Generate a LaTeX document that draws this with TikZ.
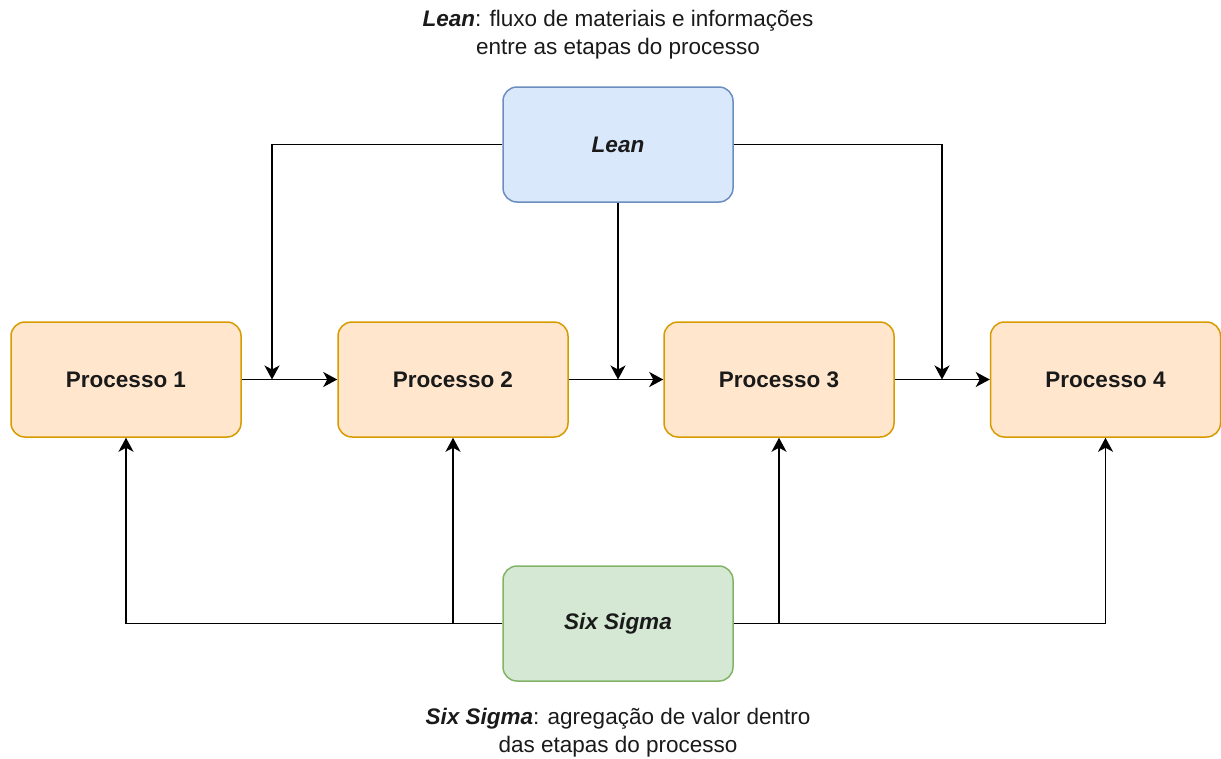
\documentclass[tikz,border=0pt]{standalone}
\usepackage{fontspec}
\setmainfont{Liberation Sans}
\usetikzlibrary{arrows.meta}
\definecolor{leanfill}{HTML}{DAE8FC}
\definecolor{leanline}{HTML}{6C8EBF}
\definecolor{procfill}{HTML}{FFE6CC}
\definecolor{procline}{HTML}{D79B00}
\definecolor{sixfill}{HTML}{D5E8D4}
\definecolor{sixline}{HTML}{82B366}
\definecolor{ink}{HTML}{1A1A1A}
\newcommand{\labfont}{\fontsize{22.5}{27.5}\selectfont}
\tikzset{
  box/.style={rectangle, rounded corners=14pt, minimum width=230pt, minimum height=115pt,
    line width=1.5pt, inner sep=0pt, text=ink, font=\labfont},
  leanbox/.style={box, fill=leanfill, draw=leanline, font=\labfont\bfseries\itshape},
  procbox/.style={box, fill=procfill, draw=procline, font=\labfont\bfseries},
  sixbox/.style={box, fill=sixfill, draw=sixline, font=\labfont\bfseries\itshape},
  caption/.style={align=center, text=ink, inner sep=0pt, font=\labfont},
  arr/.style={line width=1.7pt, draw=black, -{Stealth[length=14pt, width=15pt, inset=4pt]}}
}
\begin{document}
\begin{tikzpicture}[x=1pt, y=-1pt]
  \useasboundingbox (0,0) rectangle (1221,758);

  % main blocks
  \node[leanbox] (lean) at (618,144.5) {Lean};
  \node[procbox] (p1) at (126,379.5) {Processo 1};
  \node[procbox] (p2) at (453,379.5) {Processo 2};
  \node[procbox] (p3) at (779,379.5) {Processo 3};
  \node[procbox] (p4) at (1105.5,379.5) {Processo 4};
  \node[sixbox] (six) at (618,623.5) {Six Sigma};

  % captions
  \node[caption] (leancap) at (618,34.5) {{\bfseries\itshape Lean}: fluxo de materiais e informações\\entre as etapas do processo};
  \node[caption] (sixcap) at (618,732.5) {{\bfseries\itshape Six Sigma}: agregação de valor dentro\\das etapas do processo};

  % junction points on the process flow
  \coordinate (j1) at (272,379.5);
  \coordinate (j2) at (618,379.5);
  \coordinate (j3) at (942,379.5);

  % process flow
  \draw[arr] (p1) -- (p2);
  \draw[arr] (p2) -- (p3);
  \draw[arr] (p3) -- (p4);

  % Lean feeds the flow between the steps
  \draw[arr] (lean.west) -| (j1);
  \draw[arr] (lean.south) -- (j2);
  \draw[arr] (lean.east) -| (j3);

  % Six Sigma acts inside each step
  \draw[arr] (six.west) -| (p1.south);
  \draw[arr] (p2.south |- six.west) -- (p2.south);
  \draw[arr] (six.east) -| (p4.south);
  \draw[arr] (p3.south |- six.east) -- (p3.south);
\end{tikzpicture}
\end{document}
